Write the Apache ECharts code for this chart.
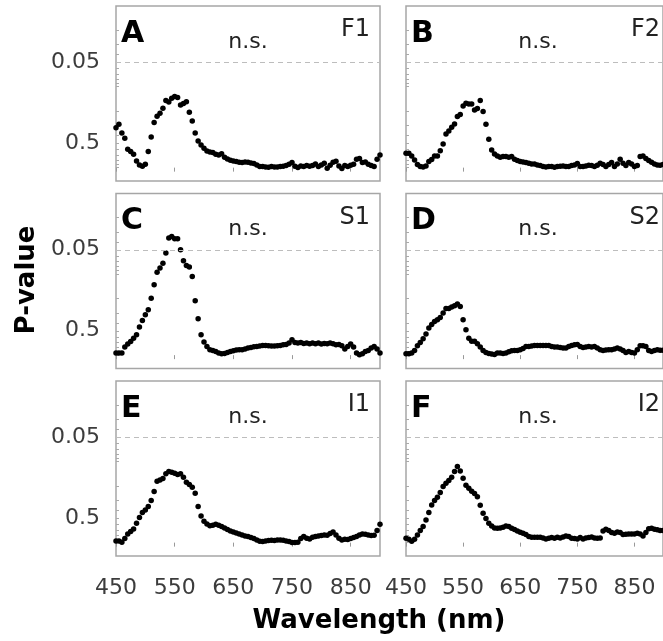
<!DOCTYPE html>
<html><head><meta charset="utf-8">
<script src="https://cdn.jsdelivr.net/npm/echarts@6/dist/echarts.min.js"></script>
<style>html,body{margin:0;padding:0;background:#fff}#c{width:663px;height:641px}</style>
</head><body><div id="c"></div><script>
// Wavelength sampling (nm)
const wavelengths = [450,455,460,465,470,475,480,485,490,495,500,505,510,515,520,525,530,535,540,545,550,555,560,565,570,575,580,585,590,595,600,605,610,615,620,625,630,635,640,645,650,655,660,665,670,675,680,685,690,695,700,705,710,715,720,725,730,735,740,745,750,755,760,765,770,775,780,785,790,795,800,805,810,815,820,825,830,835,840,845,850,855,860,865,870,875,880,885,890,895,900];

// -log10(P-value)
const negLogP_F1 = [0.494,0.536,0.429,0.363,0.227,0.198,0.165,0.083,0.034,0.017,0.042,0.198,0.379,0.556,0.634,0.671,0.733,0.828,0.811,0.857,0.877,0.865,0.774,0.791,0.815,0.684,0.577,0.429,0.330,0.280,0.239,0.206,0.194,0.186,0.165,0.157,0.173,0.128,0.108,0.091,0.083,0.075,0.066,0.062,0.071,0.066,0.058,0.050,0.034,0.013,0.013,0.009,0.005,0.013,0.009,0.009,0.013,0.017,0.025,0.042,0.062,0.017,0.001,0.021,0.013,0.025,0.017,0.025,0.046,0.013,0.034,0.054,-0.008,0.029,0.066,0.079,0.021,-0.012,0.025,0.013,0.029,0.042,0.103,0.112,0.062,0.071,0.042,0.025,0.013,0.103,0.157];
const negLogP_F2 = [0.178,0.178,0.145,0.095,0.038,0.013,0.009,0.021,0.075,0.099,0.145,0.145,0.210,0.293,0.416,0.453,0.499,0.540,0.630,0.655,0.762,0.795,0.787,0.787,0.713,0.729,0.828,0.692,0.536,0.350,0.219,0.169,0.145,0.128,0.136,0.136,0.128,0.136,0.103,0.087,0.075,0.071,0.062,0.054,0.046,0.046,0.034,0.025,0.013,0.009,0.013,0.013,0.005,0.013,0.017,0.021,0.013,0.013,0.025,0.034,0.050,0.013,0.013,0.021,0.029,0.025,0.013,0.029,0.054,0.038,0.013,0.038,0.062,0.013,0.046,0.103,0.054,0.025,0.062,0.046,0.013,0.025,0.136,0.145,0.112,0.087,0.066,0.046,0.034,0.030,0.040];
const negLogP_S1 = [0.025,0.025,0.025,0.099,0.136,0.169,0.210,0.252,0.346,0.429,0.499,0.560,0.704,0.869,1.025,1.075,1.136,1.260,1.445,1.466,1.437,1.437,1.301,1.165,1.108,1.087,0.972,0.671,0.449,0.252,0.161,0.108,0.066,0.058,0.046,0.025,0.017,0.021,0.034,0.046,0.054,0.062,0.066,0.066,0.075,0.087,0.095,0.103,0.108,0.112,0.120,0.120,0.116,0.112,0.112,0.116,0.120,0.128,0.132,0.149,0.190,0.157,0.149,0.157,0.145,0.149,0.140,0.149,0.140,0.149,0.136,0.145,0.140,0.149,0.140,0.128,0.132,0.116,0.075,0.108,0.136,0.099,0.025,0.005,0.017,0.046,0.058,0.087,0.108,0.075,0.025];
const negLogP_S2 = [0.017,0.017,0.025,0.058,0.116,0.157,0.202,0.260,0.334,0.379,0.416,0.437,0.466,0.519,0.577,0.577,0.593,0.610,0.630,0.601,0.437,0.313,0.210,0.173,0.173,0.140,0.099,0.058,0.034,0.021,0.013,0.009,0.025,0.025,0.021,0.025,0.042,0.054,0.058,0.058,0.066,0.083,0.108,0.108,0.112,0.120,0.120,0.120,0.120,0.120,0.120,0.108,0.099,0.099,0.095,0.087,0.087,0.108,0.120,0.128,0.132,0.108,0.095,0.099,0.108,0.099,0.108,0.087,0.066,0.058,0.062,0.066,0.066,0.075,0.087,0.075,0.058,0.034,0.046,0.034,0.025,0.066,0.116,0.116,0.108,0.058,0.046,0.058,0.066,0.060,0.060];
const negLogP_I1 = [0.021,0.021,0.005,0.050,0.108,0.136,0.169,0.239,0.309,0.371,0.404,0.445,0.519,0.630,0.758,0.774,0.791,0.852,0.877,0.869,0.857,0.840,0.852,0.807,0.745,0.717,0.684,0.610,0.445,0.330,0.264,0.231,0.210,0.215,0.227,0.215,0.198,0.182,0.161,0.145,0.132,0.120,0.108,0.095,0.083,0.075,0.062,0.050,0.033,0.017,0.013,0.021,0.025,0.029,0.025,0.034,0.034,0.029,0.021,0.013,0.001,0.001,0.005,0.050,0.075,0.054,0.046,0.066,0.075,0.083,0.087,0.095,0.091,0.112,0.132,0.095,0.054,0.034,0.042,0.038,0.050,0.062,0.075,0.095,0.108,0.103,0.095,0.087,0.091,0.149,0.227];
const negLogP_I2 = [0.054,0.042,0.017,0.042,0.095,0.149,0.198,0.280,0.371,0.466,0.519,0.560,0.618,0.692,0.733,0.766,0.807,0.877,0.939,0.885,0.795,0.708,0.671,0.634,0.606,0.568,0.461,0.363,0.297,0.239,0.206,0.182,0.178,0.182,0.190,0.206,0.198,0.178,0.161,0.145,0.128,0.116,0.099,0.075,0.066,0.066,0.066,0.066,0.058,0.046,0.054,0.062,0.054,0.066,0.058,0.070,0.083,0.075,0.054,0.050,0.046,0.062,0.046,0.058,0.062,0.070,0.058,0.054,0.058,0.145,0.165,0.149,0.124,0.116,0.132,0.124,0.099,0.103,0.108,0.108,0.108,0.116,0.108,0.083,0.124,0.173,0.178,0.165,0.160,0.150,0.150];

const panelSeries = [negLogP_F1, negLogP_F2, negLogP_S1, negLogP_S2, negLogP_I1, negLogP_I2];
const panelLetters = ['A','B','C','D','E','F'];
const panelNames = ['F1','F2','S1','S2','I1','I2'];
const panelNote = 'n.s.';

// Axis tick labels
const xTickLabels = [450, 550, 650, 750, 850];
const yTickLabels = ['0.05', '0.5'];
const yMinorP = [0.02,0.03,0.04,0.05,0.06,0.07,0.08,0.09,0.1,0.2,0.3,0.4,0.5,0.6,0.7,0.8,0.9,1];
const alphaP = 0.05;

const chart = echarts.init(document.getElementById('c'), null, {renderer: 'canvas'});

const colLeft = [116, 406];
const rowTop = [6, 193.5, 381];
const W = 264, H = 175;
const yMin = -0.165, yMax = 1.996;

const grids = [], xAxes = [], yAxes = [], series = [], graphics = [];
const yLabelVals = yTickLabels.map(s => -Math.log10(parseFloat(s)));
const yTickVals = yMinorP.map(p => -Math.log10(p));

for (let i = 0; i < 6; i++) {
  const col = i % 2, row = Math.floor(i / 2);
  const left = colLeft[col], top = rowTop[row];
  grids.push({left: left, top: top, width: W, height: H, show: true, borderColor: '#a6a6a6', borderWidth: 1.5, backgroundColor: 'transparent'});
  xAxes.push({
    gridIndex: i, type: 'value', min: 450, max: 900,
    axisLine: {show: false},
    axisTick: {show: true, customValues: xTickLabels, length: 4, inside: false, lineStyle: {color: '#999', width: 1}},
    axisLabel: {show: row === 2, customValues: xTickLabels, fontSize: 22, color: '#3c3c3c', fontFamily: 'DejaVu Sans', margin: 21},
    splitLine: {show: false}
  });
  yAxes.push({
    gridIndex: i, type: 'value', min: yMin, max: yMax,
    axisLine: {show: false},
    axisTick: {show: true, customValues: yTickVals, length: 3, inside: true, lineStyle: {color: '#aaa', width: 1}},
    axisLabel: {show: col === 0, customValues: yLabelVals, fontSize: 22, color: '#3c3c3c', fontFamily: 'DejaVu Sans', margin: 16,
      formatter: function (v) {
        let best = 0, bd = Infinity;
        yLabelVals.forEach((lv, j) => { const d = Math.abs(lv - v); if (d < bd) { bd = d; best = j; } });
        return yTickLabels[best];
      }},
    splitLine: {show: false}
  });
  series.push({
    type: 'scatter', xAxisIndex: i, yAxisIndex: i,
    data: wavelengths.map((w, j) => [w, panelSeries[i][j]]),
    symbol: 'circle', symbolSize: 5.5,
    itemStyle: {color: '#000', opacity: 1},
    silent: true,
    markLine: {
      silent: true, symbol: 'none', animation: false,
      label: {show: false},
      lineStyle: {type: [5, 4], color: '#bdbdbd', width: 1},
      data: [{yAxis: -Math.log10(alphaP)}]
    }
  });
  graphics.push({type: 'text', x: left + 5, y: top + 28, style: {text: panelLetters[i], fontSize: 30, fontWeight: 'bold', fontFamily: 'DejaVu Sans', fill: '#000', align: 'left', verticalAlign: 'middle'}});
  graphics.push({type: 'text', x: left + W - 10, y: top + 24, style: {text: panelNames[i], fontSize: 24, fontFamily: 'DejaVu Sans', fill: '#222', align: 'right', verticalAlign: 'middle'}});
  graphics.push({type: 'text', x: left + W / 2, y: top + 36, style: {text: panelNote, fontSize: 22, fontFamily: 'DejaVu Sans', fill: '#222', align: 'center', verticalAlign: 'middle'}});
}

graphics.push({type: 'text', x: 27, y: 280, rotation: Math.PI / 2, style: {text: 'P-value', fontSize: 26, fontWeight: 'bold', fontFamily: 'DejaVu Sans', fill: '#000', align: 'center', verticalAlign: 'middle'}});
graphics.push({type: 'text', x: 379, y: 621, style: {text: 'Wavelength (nm)', fontSize: 26, fontWeight: 'bold', fontFamily: 'DejaVu Sans', fill: '#000', align: 'center', verticalAlign: 'middle'}});

chart.setOption({
  animation: false,
  backgroundColor: '#fff',
  grid: grids, xAxis: xAxes, yAxis: yAxes, series: series,
  graphic: graphics
});
</script></body></html>
